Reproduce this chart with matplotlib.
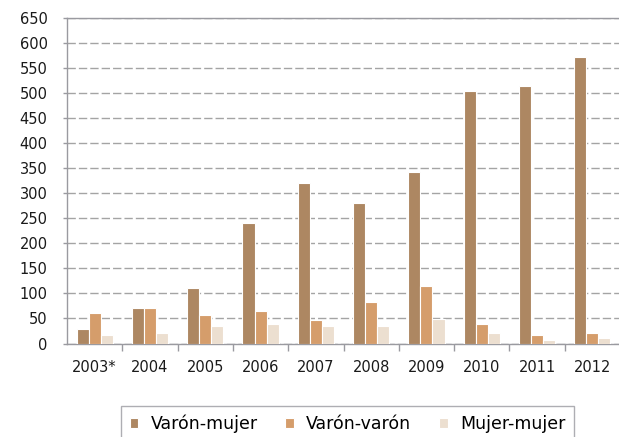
# Parejas por tipo, 2003-2012
import numpy as np
import matplotlib.pyplot as plt

plt.rcParams['font.family'] = ['DejaVu Sans']

years = ['2003*', '2004', '2005', '2006', '2007', '2008', '2009', '2010', '2011', '2012']
varon_mujer = [29, 70, 110, 240, 321, 280, 343, 505, 514, 572]
varon_varon = [60, 70, 56, 65, 47, 83, 115, 39, 16, 21]
mujer_mujer = [16, 20, 34, 39, 35, 35, 48, 21, 7, 11]

series = [('Varón-mujer', varon_mujer, '#ad8762'),
          ('Varón-varón', varon_varon, '#d59d6b'),
          ('Mujer-mujer', mujer_mujer, '#ecdfd0')]

fig = plt.figure(figsize=(6.19, 4.37), dpi=100)
ax = fig.add_axes([67 / 619, (437 - 343.5) / 437, 553 / 619, 325.5 / 437])

x = np.arange(len(years))
w = 0.218
for i, (name, vals, col) in enumerate(series):
    ax.bar(x + (i - 1) * w, vals, width=w, color=col,
           edgecolor='white', linewidth=0.8, label=name, zorder=3)

ax.set_ylim(0, 650)
ax.set_xlim(-0.5, len(years) - 0.5)
ax.set_yticks(range(0, 651, 50))
ax.grid(axis='y', color='#a4a4a4', linestyle=(0, (6, 2.2)), linewidth=1, zorder=0)

ax.set_xticks(x)
ax.set_xticklabels(years)
ax.set_xticks(np.arange(0.5, len(years) - 0.5, 1), minor=True)
ax.tick_params(axis='x', which='major', length=0, pad=12, labelsize=10.5, colors='#1a1a1a')
ax.tick_params(axis='x', which='minor', length=5, width=1, color='#9a9aa0')
ax.tick_params(axis='y', length=3, width=1, color='#9a9aa0', labelsize=10.5,
               labelcolor='#1a1a1a', pad=11)

for s in ['left', 'bottom', 'top']:
    ax.spines[s].set_color('#9a9aa0')
    ax.spines[s].set_linewidth(1)
ax.spines['right'].set_visible(False)

leg = fig.legend(loc='lower center', bbox_to_anchor=(347.5 / 619, -0.03), ncol=3,
                 fontsize=12.5, frameon=True, fancybox=False, edgecolor='#9a9aa0',
                 handlelength=0.5, handleheight=0.5, handletextpad=0.7,
                 columnspacing=1.6, borderpad=0.5)
leg.get_frame().set_linewidth(1)

fig.savefig('out.png', dpi=100)
